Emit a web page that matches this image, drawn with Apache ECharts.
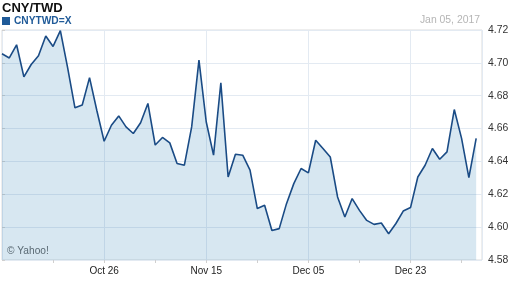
<!DOCTYPE html>
<html>
<head>
<meta charset="utf-8">
<script src="https://cdn.jsdelivr.net/npm/echarts@6/dist/echarts.min.js"></script>
<style>
html,body{margin:0;padding:0;background:#fff;}
#chart{width:512px;height:288px;}
</style>
</head>
<body>
<div id="chart"></div>
<script>
var title = 'CNY/TWD';
var seriesName = 'CNYTWD=X';
var credit = '\u00A9 Yahoo!';
var dates = [
'2016-10-06','2016-10-07','2016-10-10','2016-10-11','2016-10-12','2016-10-13','2016-10-14',
'2016-10-17','2016-10-18','2016-10-19','2016-10-20','2016-10-21','2016-10-24','2016-10-25',
'2016-10-26','2016-10-27','2016-10-28','2016-10-31','2016-11-01','2016-11-02','2016-11-03',
'2016-11-04','2016-11-07','2016-11-08','2016-11-09','2016-11-10','2016-11-11','2016-11-14',
'2016-11-15','2016-11-16','2016-11-17','2016-11-18','2016-11-21','2016-11-22','2016-11-23',
'2016-11-24','2016-11-25','2016-11-28','2016-11-29','2016-11-30','2016-12-01','2016-12-02',
'2016-12-05','2016-12-06','2016-12-07','2016-12-08','2016-12-09','2016-12-12','2016-12-13',
'2016-12-14','2016-12-15','2016-12-16','2016-12-19','2016-12-20','2016-12-21','2016-12-22',
'2016-12-23','2016-12-26','2016-12-27','2016-12-28','2016-12-29','2016-12-30','2017-01-02',
'2017-01-03','2017-01-04','2017-01-05'
];
var values = [
4.7055,4.703,4.711,4.6915,4.699,4.7043,4.7163,
4.710,4.7196,4.697,4.6726,4.6743,4.691,4.671,
4.6523,4.662,4.6677,4.661,4.657,4.6635,4.6753,
4.650,4.6546,4.6513,4.6387,4.6377,4.661,4.7017,
4.664,4.6438,4.6879,4.6305,4.6444,4.6438,4.6347,
4.6113,4.6133,4.598,4.5991,4.6143,4.6265,4.6357,
4.633,4.6529,4.6479,4.6427,4.6184,4.6062,4.6174,
4.6102,4.6041,4.6017,4.6025,4.596,4.6022,4.6098,
4.6119,4.6305,4.6377,4.6479,4.6413,4.6458,4.6716,
4.654,4.6301,4.654
];
var yTicks = [4.58,4.60,4.62,4.64,4.66,4.68,4.70,4.72];
var monthNames = ['Jan','Feb','Mar','Apr','May','Jun','Jul','Aug','Sep','Oct','Nov','Dec'];

function shortDate(s){
  var p = s.split('-');
  return monthNames[parseInt(p[1],10)-1] + ' ' + p[2];
}
var lastDate = dates[dates.length-1];
var stamp = shortDate(lastDate) + ', ' + lastDate.split('-')[0];

var seriesData = values.map(function(v,i){ return [i, v]; });
var font = '"Liberation Sans", Arial, sans-serif';
var xMax = 65.8;

var chart = echarts.init(document.getElementById('chart'), null, {renderer:'canvas'});
chart.setOption({
  animation: false,
  backgroundColor: '#fff',
  textStyle: {fontFamily: font},
  title: {
    text: title, left: 2, top: 2, padding: 0,
    textStyle: {fontSize: 13, fontWeight: 'bold', color: '#111', fontFamily: font}
  },
  legend: {
    data: [seriesName], left: 2, top: 16, padding: 0,
    icon: 'rect', itemWidth: 8, itemHeight: 8, itemGap: 4,
    textStyle: {fontSize: 10.2, fontWeight: 'bold', color: '#1f5a98', fontFamily: font, padding: [0,0,0,-1]}
  },
  graphic: [
    {type: 'text', right: 32, top: 15, style: {text: stamp, fill: '#b5b5b5', font: '10.4px ' + font}},
    {type: 'text', left: 7, top: 246, style: {text: credit, fill: '#666', font: '10.2px ' + font}}
  ],
  grid: {left: 2, right: 30, top: 30, bottom: 28, show: true, borderColor: '#dcdcdc', borderWidth: 1, backgroundColor: 'transparent'},
  xAxis: [
    {
      type: 'value', min: 0, max: xMax, interval: 7,
      axisLine: {show: false},
      axisTick: {show: true, length: 3, lineStyle: {color: '#cfcfcf'}},
      splitLine: {show: false},
      axisLabel: {
        margin: 6, fontSize: 10, color: '#222', fontFamily: font,
        showMinLabel: false, showMaxLabel: false,
        formatter: function(v){
          if (v > 0 && v % 14 === 0 && v < dates.length) return shortDate(dates[v]);
          return '';
        }
      }
    },
    {
      type: 'value', min: 0, max: xMax, interval: 14, position: 'bottom',
      axisLine: {show: false}, axisTick: {show: false}, axisLabel: {show: false},
      splitLine: {show: true, lineStyle: {color: '#e3eaf2', width: 1}}
    }
  ],
  yAxis: {
    type: 'value', position: 'right', min: yTicks[0], max: yTicks[yTicks.length-1], interval: 0.02,
    axisLine: {show: false},
    axisTick: {show: true, length: 3, lineStyle: {color: '#cfcfcf'}},
    splitLine: {show: true, lineStyle: {color: '#e3eaf2', width: 1}},
    axisLabel: {
      margin: 6, fontSize: 10.4, color: '#333', fontFamily: font,
      formatter: function(v){ return v.toFixed(2); }
    }
  },
  series: [{
    name: seriesName, type: 'line', xAxisIndex: 0, data: seriesData,
    showSymbol: false, symbol: 'none',
    itemStyle: {color: '#1f5a98'},
    lineStyle: {color: '#1a4b85', width: 1.6},
    areaStyle: {color: 'rgba(35,120,180,0.18)', opacity: 1, origin: 'start'}
  }]
});
</script>
</body>
</html>
